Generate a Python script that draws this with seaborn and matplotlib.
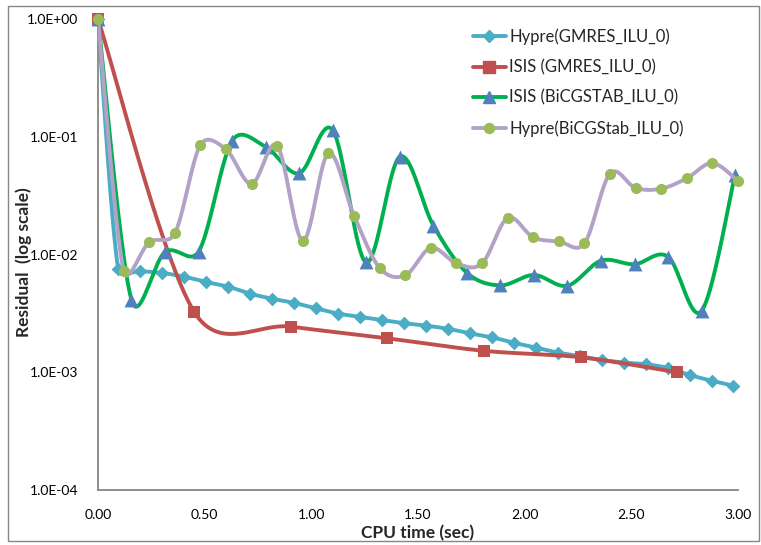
import numpy as np
import pandas as pd
import matplotlib
matplotlib.use("Agg")
import matplotlib.pyplot as plt
from matplotlib.lines import Line2D
from matplotlib.patches import Rectangle
from matplotlib.ticker import FuncFormatter, FixedLocator
import seaborn as sns

# ---- data: CPU time (sec) and residual per solver ----
t_hypre_gmres = [0.0, 0.095, 0.198, 0.301, 0.404, 0.507, 0.610, 0.713, 0.816, 0.919,
                 1.022, 1.125, 1.228, 1.331, 1.434, 1.537, 1.640, 1.743, 1.846, 1.949,
                 2.052, 2.155, 2.258, 2.361, 2.464, 2.567, 2.670, 2.773, 2.876, 2.978]
r_hypre_gmres = [1.0, 7.49e-3, 7.24e-3, 6.97e-3, 6.48e-3, 5.84e-3, 5.33e-3, 4.65e-3, 4.21e-3, 3.88e-3,
                 3.49e-3, 3.15e-3, 2.96e-3, 2.78e-3, 2.61e-3, 2.49e-3, 2.34e-3, 2.14e-3, 1.98e-3, 1.78e-3,
                 1.62e-3, 1.47e-3, 1.37e-3, 1.27e-3, 1.21e-3, 1.17e-3, 1.09e-3, 9.48e-4, 8.48e-4, 7.69e-4]

t_isis_gmres = [0.0, 0.452, 0.905, 1.357, 1.810, 2.262, 2.714]
r_isis_gmres = [1.0, 3.23e-3, 2.44e-3, 1.94e-3, 1.52e-3, 1.34e-3, 1.0e-3]

t_isis_bicg = [0.0, 0.157, 0.314, 0.472, 0.629, 0.786, 0.943, 1.100, 1.257, 1.415,
               1.572, 1.729, 1.886, 2.043, 2.200, 2.358, 2.515, 2.672, 2.829, 2.986]
r_isis_bicg = [1.0, 4.11e-3, 1.05e-2, 1.06e-2, 9.25e-2, 8.22e-2, 4.90e-2, 0.114, 8.59e-3, 6.77e-2,
               1.76e-2, 7.0e-3, 5.47e-3, 6.70e-3, 5.43e-3, 8.86e-3, 8.26e-3, 9.58e-3, 3.31e-3, 4.73e-2]

t_hypre_bicg = [0.00, 0.12, 0.24, 0.36, 0.48, 0.60, 0.72, 0.84, 0.96, 1.08, 1.20, 1.32, 1.44,
                1.56, 1.68, 1.80, 1.92, 2.04, 2.16, 2.28, 2.40, 2.52, 2.64, 2.76, 2.88, 3.00]
r_hypre_bicg = [1.0, 7.28e-3, 1.27e-2, 1.51e-2, 8.51e-2, 7.82e-2, 3.98e-2, 8.39e-2, 1.31e-2, 7.25e-2,
                2.14e-2, 7.71e-3, 6.65e-3, 1.14e-2, 8.41e-3, 8.39e-3, 2.04e-2, 1.40e-2, 1.29e-2, 1.24e-2,
                4.86e-2, 3.67e-2, 3.62e-2, 4.44e-2, 5.98e-2, 4.21e-2]

labels = ["Hypre(GMRES_ILU_0)", "ISIS (GMRES_ILU_0)", "ISIS (BiCGSTAB_ILU_0)", "Hypre(BiCGStab_ILU_0)"]
x_ticks = [0.0, 0.5, 1.0, 1.5, 2.0, 2.5, 3.0]
y_ticks = [1e-4, 1e-3, 1e-2, 1e-1, 1.0]

# screen scale of the plot area (pixels per sec, pixels per decade)
SX, SY = 640 / 3.0, 471 / 4.0


def smooth_curve(x, y, n=40, clamp=0.5):
    """Bezier smoothing through the points, with control handles limited to
    a fraction of each segment's on-screen length."""
    pts = np.column_stack([np.asarray(x, float) * SX,
                           np.log10(np.asarray(y, float)) * SY])
    P = np.vstack([pts[0], pts, pts[-1]])
    s = np.linspace(0.0, 1.0, n)[:, None]
    out = []
    for i in range(1, len(P) - 2):
        p0, p1, p2, p3 = P[i - 1], P[i], P[i + 1], P[i + 2]
        seg_len = np.hypot(*(p2 - p1))
        v1 = (p2 - p0) / 6.0
        v2 = (p3 - p1) / 6.0
        for v in (v1, v2):
            L = np.hypot(*v)
            if L > clamp * seg_len and L > 0:
                v *= clamp * seg_len / L
        c1 = p1 + v1
        c2 = p2 - v2
        seg = (1 - s) ** 3 * p1 + 3 * (1 - s) ** 2 * s * c1 + 3 * (1 - s) * s ** 2 * c2 + s ** 3 * p2
        out.append(seg if i == 1 else seg[1:])
    c = np.vstack(out)
    return c[:, 0] / SX, 10 ** (c[:, 1] / SY)


series = [
    (t_hypre_gmres, r_hypre_gmres, "#4BACC6", "D", "#4BACC6", 7),
    (t_isis_gmres, r_isis_gmres, "#C0504D", "s", "#C0504D", 9),
    (t_isis_bicg, r_isis_bicg, "#00B050", "^", "#4F81BD", 10),
    (t_hypre_bicg, r_hypre_bicg, "#B3A2C7", "o", "#9BBB59", 8),
]

sns.set_style("white")
plt.rcParams["font.family"] = ["Lato", "DejaVu Sans"]

fig = plt.figure(figsize=(7.61, 5.45), dpi=100)
ax = fig.add_axes([98 / 761, 1 - 490 / 545, 640 / 761, 471 / 545])

handles = []
for k, (tx, ry, lc, mk, mc, ms) in enumerate(series):
    sx, sy = smooth_curve(tx, ry)
    curve = pd.DataFrame({"t": sx, "r": sy})
    sns.lineplot(data=curve, x="t", y="r", sort=False, estimator=None, ax=ax,
                 color=lc, linewidth=2.8, zorder=2 + 2 * k)
    pts = pd.DataFrame({"t": tx, "r": ry})
    sns.scatterplot(data=pts, x="t", y="r", ax=ax, marker=mk, color=mc,
                    s=ms ** 2, linewidth=0, zorder=3 + 2 * k, clip_on=False)
    handles.append(Line2D([0], [0], color=lc, linewidth=2.8, marker=mk,
                          markerfacecolor=mc, markeredgecolor=mc, markersize=ms * 0.9))

ax.set_yscale("log")
ax.set_xlim(0, 3.0)
ax.set_ylim(1e-4, 1.0)
ax.xaxis.set_major_locator(FixedLocator(x_ticks))
ax.yaxis.set_major_locator(FixedLocator(y_ticks))
ax.yaxis.set_minor_locator(FixedLocator([]))
ax.xaxis.set_major_formatter(FuncFormatter(lambda v, p: f"{v:.2f}"))


def sci(v, p):
    e = int(round(np.log10(v)))
    sign = "+" if e >= 0 else "-"
    return f"1.0E{sign}{abs(e):02d}"


ax.yaxis.set_major_formatter(FuncFormatter(sci))

for side in ("top", "right"):
    ax.spines[side].set_visible(False)
for side in ("left", "bottom"):
    ax.spines[side].set_color("#868686")
    ax.spines[side].set_linewidth(1.3)
ax.tick_params(axis="both", which="major", direction="out", length=5, width=1,
               color="#868686", labelsize=10, labelcolor="black")
ax.tick_params(axis="y", pad=9)
ax.tick_params(axis="x", pad=9)

ax.set_xlabel("CPU time (sec)", fontsize=12.5, fontweight="bold")
ax.set_ylabel("Residual  (log scale)", fontsize=12.5, fontweight="bold")
ax.xaxis.set_label_coords(0.5, -(533 - 490) / 471, transform=ax.transAxes)
ax.xaxis.label.set_va("center")
ax.yaxis.set_label_coords(-(98 - 24) / 640, (490 - 262) / 471, transform=ax.transAxes)
ax.yaxis.label.set_va("center")

ax.legend(handles=handles, labels=labels, loc="upper left", bbox_to_anchor=(466 / 761, 1 - 22 / 545),
          bbox_transform=fig.transFigure, frameon=False, fontsize=12, handlelength=2.0,
          handletextpad=0.2, labelspacing=0.85, borderaxespad=0)

fig.patches.append(Rectangle((8 / 761, 4 / 545), 751 / 761, 535 / 545, transform=fig.transFigure,
                             fill=False, edgecolor="#868686", linewidth=1.0))

fig.savefig("out.png", dpi=100)
